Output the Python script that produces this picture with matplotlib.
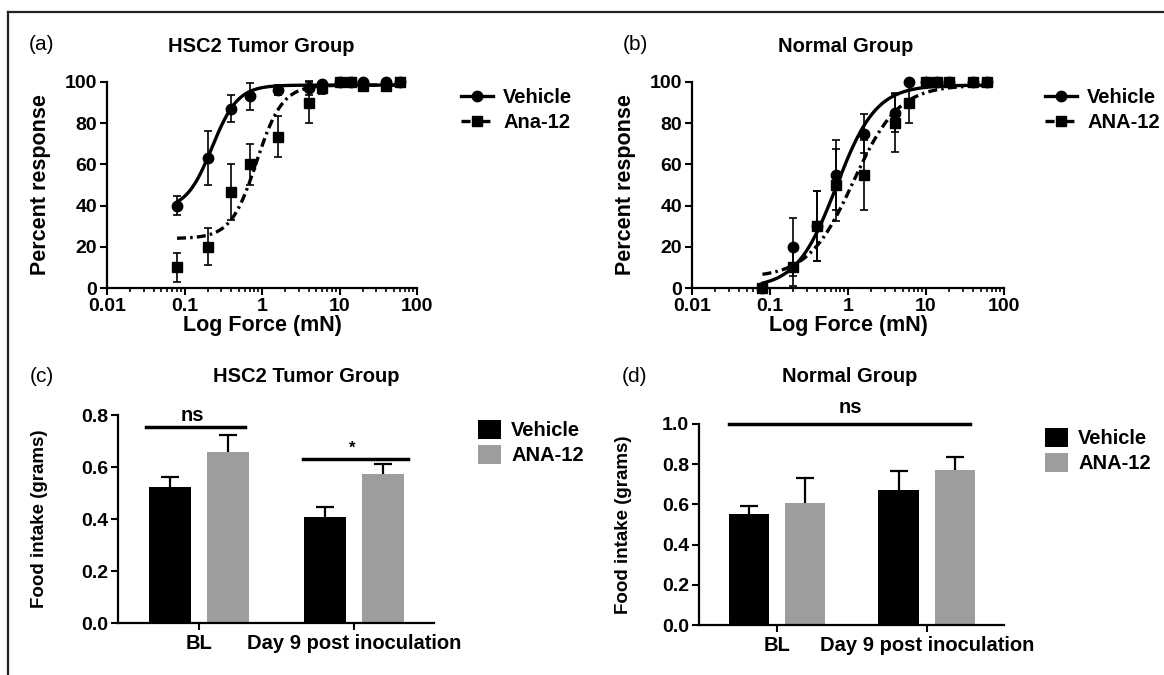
import numpy as np
import matplotlib
matplotlib.use("Agg")
import matplotlib.pyplot as plt
from matplotlib.lines import Line2D
from matplotlib.patches import Patch
from matplotlib import ticker

plt.rcParams['font.family'] = ['Liberation Sans', 'DejaVu Sans']
plt.rcParams['font.weight'] = 'bold'
plt.rcParams['lines.scale_dashes'] = False

# ---------------- data ----------------
force_mN = [0.08, 0.2, 0.4, 0.7, 1.6, 4, 6, 10, 14, 20, 40, 60]

a_vehicle = [40, 63, 87, 93, 96, 97, 99, 100, 100, 100, 100, 100]
a_vehicle_err = [4.5, 13, 6.5, 6.5, 2.5, 3.5, 1, 0, 0, 0, 0, 0]
a_ana = [10, 20, 46.5, 60, 73.5, 90, 97, 100, 100, 98, 98, 100]
a_ana_err = [7, 9, 13.5, 10, 10, 10, 3, 0, 0, 0, 0, 0]

b_vehicle = [0, 20, 30, 55, 75, 85, 100, 100, 100, 100, 100, 100]
b_vehicle_err = [0, 14, 17, 17, 9.5, 9.5, 0, 0, 0, 0, 0, 0]
b_ana = [0, 10, 30, 50, 55, 80, 90, 100, 100, 100, 100, 100]
b_ana_err = [0, 9, 17, 17.5, 17, 14, 10, 0, 0, 0, 0, 0]

# fitted sigmoid (Hill) curve parameters: bottom, top, logEC50, hill slope
fit_a_vehicle = (38, 98.5, -0.645, 2.6)
fit_a_ana = (24, 98.5, -0.07, 2.6)
fit_b_vehicle = (0, 98.5, -0.15, 1.7)
fit_b_ana = (5, 98.5, 0.07, 1.5)

timepoints = ["BL", "Day 9 post inoculation"]
c_vehicle = [0.522, 0.406]
c_vehicle_err = [0.038, 0.041]
c_ana = [0.657, 0.573]
c_ana_err = [0.066, 0.037]

d_vehicle = [0.554, 0.673]
d_vehicle_err = [0.038, 0.092]
d_ana = [0.607, 0.771]
d_ana_err = [0.123, 0.066]

W, H = 1164, 675
fig = plt.figure(figsize=(W / 100, H / 100), dpi=100)


def ax_px(x0, x1, ytop, ybot):
    return fig.add_axes([x0 / W, 1 - ybot / H, (x1 - x0) / W, (ybot - ytop) / H])


def hill(x, p):
    b, t, lec, h = p
    return b + (t - b) / (1 + 10 ** ((lec - np.log10(x)) * h))


DASHDOT = (0, (6.5, 3, 1.8, 3))
GRAY = '#9d9d9d'


def style_axes(ax):
    for s in ['top', 'right']:
        ax.spines[s].set_visible(False)
    for s in ['left', 'bottom']:
        ax.spines[s].set_linewidth(1.6)
    ax.tick_params(axis='both', which='major', direction='out', length=5, width=1.5,
                   labelsize=14, pad=2)
    ax.tick_params(axis='both', which='minor', direction='out', length=3, width=1.2)
    for lab in ax.get_xticklabels() + ax.get_yticklabels():
        lab.set_fontweight('bold')


def curve_panel(ax, veh, veh_err, ana, ana_err, fit_v, fit_a, ana_label, leg_x):
    ax.set_xscale('log')
    ax.set_xlim(0.01, 100)
    ax.set_ylim(0, 100)
    xs = np.logspace(np.log10(force_mN[0]), np.log10(force_mN[-1]), 400)
    ax.plot(xs, hill(xs, fit_v), color='black', lw=2.4, clip_on=False, zorder=3)
    ax.plot(xs, hill(xs, fit_a), color='black', lw=2.4, linestyle=DASHDOT, clip_on=False, zorder=3)
    ax.errorbar(force_mN, ana, yerr=ana_err, fmt='s', color='black', ms=7,
                elinewidth=1.2, capsize=3, capthick=1.2, clip_on=False, zorder=4)
    ax.errorbar(force_mN, veh, yerr=veh_err, fmt='o', color='black', ms=7.5,
                elinewidth=1.2, capsize=3, capthick=1.2, clip_on=False, zorder=5)
    ax.set_yticks([0, 20, 40, 60, 80, 100])
    ax.set_xticks([0.01, 0.1, 1, 10, 100])
    ax.xaxis.set_major_formatter(ticker.FuncFormatter(lambda v, _: f'{v:g}'))
    ax.xaxis.set_minor_locator(ticker.LogLocator(base=10, subs=np.arange(2, 10), numticks=20))
    ax.xaxis.set_minor_formatter(ticker.NullFormatter())
    style_axes(ax)
    ax.set_xlabel('Log Force (mN)', fontsize=15.5, fontweight='bold', labelpad=0)
    ax.set_ylabel('Percent response', fontsize=15.5, fontweight='bold')
    ax.yaxis.set_label_coords(-0.18, 0.5)
    handles = [Line2D([], [], color='black', lw=2.4, marker='o', ms=7.5),
               Line2D([], [], color='black', lw=2.4, linestyle=DASHDOT, marker='s', ms=7)]
    fig.legend(handles, ['Vehicle', ana_label], loc='upper left',
               bbox_to_anchor=(leg_x / W, 1 - 88 / H), frameon=False,
               prop={'size': 14.5, 'weight': 'bold'}, handlelength=1.6,
               handletextpad=0.5, labelspacing=0.3, borderaxespad=0, borderpad=0)


def bar_panel(ax, veh, veh_err, ana, ana_err, ymax, leg_x, leg_y):
    x = np.arange(len(timepoints))
    off, bw = 0.188, 0.27
    ax.bar(x - off, veh, bw, color='black', zorder=2)
    ax.bar(x + off, ana, bw, color=GRAY, zorder=2)
    for xs, vals, errs in [(x - off, veh, veh_err), (x + off, ana, ana_err)]:
        _, caps, _ = ax.errorbar(xs, vals, yerr=[[0] * len(vals), errs], fmt='none',
                                 ecolor='black', elinewidth=1.6, capsize=6.5,
                                 capthick=1.6, zorder=3)
        caps[0].set_visible(False)
    ax.set_xlim(-0.52, 1.515)
    ax.set_ylim(0, ymax)
    ax.set_yticks(np.round(np.arange(0, ymax + 0.001, 0.2), 1))
    ax.yaxis.set_major_formatter(ticker.FormatStrFormatter('%.1f'))
    ax.set_xticks(x)
    ax.set_xticklabels(timepoints)
    style_axes(ax)
    ax.tick_params(axis='x', labelsize=14.5, pad=3)
    for lab in ax.get_xticklabels():
        lab.set_fontweight('bold')
    ax.set_ylabel('Food intake (grams)', fontsize=13.5, fontweight='bold')
    ax.yaxis.set_label_coords(-0.22, 0.5)
    handles = [Patch(facecolor='black'), Patch(facecolor=GRAY)]
    fig.legend(handles, ['Vehicle', 'ANA-12'], loc='upper left',
               bbox_to_anchor=(leg_x / W, 1 - leg_y / H), frameon=False,
               prop={'size': 14.5, 'weight': 'bold'}, handlelength=1.15, handleheight=1.05,
               handletextpad=0.5, labelspacing=0.25, borderaxespad=0, borderpad=0)


# panel (a)
ax_a = ax_px(107, 417, 82, 288)
curve_panel(ax_a, a_vehicle, a_vehicle_err, a_ana, a_ana_err, fit_a_vehicle, fit_a_ana,
            'Ana-12', 461)

# panel (b)
ax_b = ax_px(692, 1004, 82, 288)
curve_panel(ax_b, b_vehicle, b_vehicle_err, b_ana, b_ana_err, fit_b_vehicle, fit_b_ana,
            'ANA-12', 1045)

# panel (c)
ax_c = ax_px(118, 434, 415, 623)
bar_panel(ax_c, c_vehicle, c_vehicle_err, c_ana, c_ana_err, 0.8, 478, 420)
ax_c.plot([-0.34, 0.30], [0.754, 0.754], color='black', lw=2.5, clip_on=False)
ax_c.text(-0.04, 0.762, 'ns', ha='center', va='bottom', fontsize=14.5, fontweight='bold')
ax_c.plot([0.67, 1.35], [0.631, 0.631], color='black', lw=2.5, clip_on=False)
ax_c.text(0.99, 0.645, '*', ha='center', va='bottom', fontsize=12, fontweight='bold')

# panel (d)
ax_d = ax_px(699, 1004, 424, 625)
bar_panel(ax_d, d_vehicle, d_vehicle_err, d_ana, d_ana_err, 1.0, 1045, 428)
ax_d.plot([-0.32, 1.287], [1.0, 1.0], color='black', lw=2.5, clip_on=False)
ax_d.text(0.487, 1.035, 'ns', ha='center', va='bottom', fontsize=14.5, fontweight='bold')

# panel letters and titles
for txt, x, y in [('(a)', 42, 45), ('(b)', 635, 45), ('(c)', 42, 377), ('(d)', 635, 376)]:
    fig.text(x / W, 1 - y / H, txt, ha='center', va='center', fontsize=15, fontweight='normal')
for txt, x, y in [('HSC2 Tumor Group', 261, 47), ('Normal Group', 846, 47),
                  ('HSC2 Tumor Group', 306, 376), ('Normal Group', 850, 376)]:
    fig.text(x / W, 1 - y / H, txt, ha='center', va='center', fontsize=14.5, fontweight='bold')

# outer frame (left and top)
fig.add_artist(Line2D([8 / W, 8 / W], [0, 1 - 12 / H], transform=fig.transFigure,
                      color='#222222', lw=1.6))
fig.add_artist(Line2D([8 / W, 1], [1 - 12 / H, 1 - 12 / H], transform=fig.transFigure,
                      color='#222222', lw=1.6))

fig.savefig('out.png', dpi=100)
